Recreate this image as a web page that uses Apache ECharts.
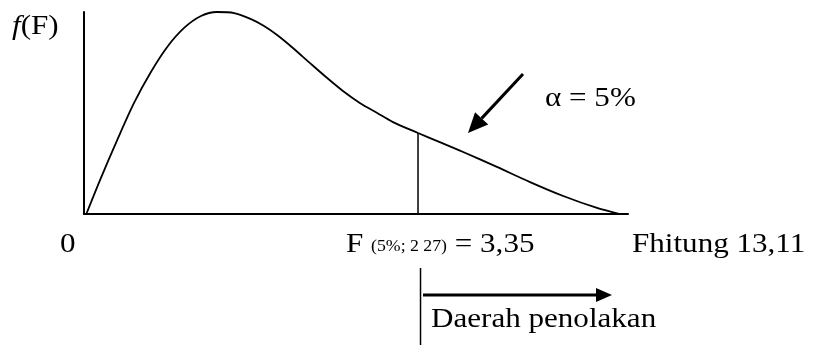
<!DOCTYPE html>
<html>
<head>
<meta charset="utf-8">
<script src="https://cdn.jsdelivr.net/npm/echarts@6/dist/echarts.min.js"></script>
<style>
  html, body { margin: 0; padding: 0; background: #fff; }
  #main { width: 814px; height: 345px; }
</style>
</head>
<body>
<div id="main"></div>
<script>
// curve of the sketch, x and y on a 0..100 scale of the drawing box
var curveX = [0.5, 3.1, 6.1, 9.2, 12.3, 15.3, 18.4, 21.5, 24.4, 27.6, 30.7, 33.1, 35.5, 38.4, 41.5, 44.7, 47.6, 50.7, 53.9, 56.8, 61.4, 65.4, 69.7, 75.9, 82.0, 88.1, 94.3, 98.5];
var curveY = [0.5, 17.8, 36.6, 55.0, 70.3, 82.7, 92.1, 98.0, 100, 99.5, 96.5, 93.1, 88.6, 82.2, 74.8, 67.3, 60.9, 55.0, 50.0, 45.5, 40.1, 35.6, 30.7, 23.3, 15.8, 8.9, 3.0, 0];
var critX = 61.4;          // where F table value sits on the sketch
var critY = 40.1;
var zeroLabel = '0';
var critLabel = ['F', '(5%; 2 27)', '= 3,35'];
var hitungLabel = 'Fhitung 13,11';
var alphaLabel = 'α = 5%';
var regionLabel = 'Daerah penolakan';

var font = '"Liberation Serif", "Times New Roman", serif';
var stretch = 1.11;

function start() {
    var myChart = echarts.init(document.getElementById('main'));
    var curve = curveX.map(function (x, i) {
        return [x, curveY[i]];
    });

    var option = {
        animation: false,
        grid: {
            left: 84,
            top: 12,
            width: 544,
            height: 202
        },
        xAxis: {
            type: 'value',
            min: 0,
            max: 100,
            axisLine: {onZero: false, lineStyle: {color: '#000', width: 2}},
            axisTick: {show: false},
            axisLabel: {show: false},
            splitLine: {show: false}
        },
        yAxis: {
            type: 'value',
            min: 0,
            max: 100,
            axisLine: {show: true, lineStyle: {color: '#000', width: 2}},
            axisTick: {show: false},
            axisLabel: {show: false},
            splitLine: {show: false}
        },
        series: [{
            type: 'line',
            data: curve,
            smooth: 0.3,
            symbol: 'none',
            lineStyle: {color: '#000', width: 1.8}
        }, {
            type: 'line',
            data: [[critX, 0], [critX, critY]],
            symbol: 'none',
            lineStyle: {color: '#000', width: 1.5}
        }]
    };
    myChart.setOption(option);

    var px = myChart.convertToPixel({gridIndex: 0}, [critX, 0])[0];

    function arrow(x1, y1, x2, y2, w, headLen, headHalf) {
        var a = Math.atan2(y2 - y1, x2 - x1);
        var bx = x2 - headLen * Math.cos(a), by = y2 - headLen * Math.sin(a);
        var nx = -Math.sin(a) * headHalf, ny = Math.cos(a) * headHalf;
        return [{
            type: 'line',
            shape: {x1: x1, y1: y1, x2: bx, y2: by},
            style: {stroke: '#000', lineWidth: w}
        }, {
            type: 'polygon',
            shape: {points: [[x2, y2], [bx + nx, by + ny], [bx - nx, by - ny]]},
            style: {fill: '#000'}
        }];
    }

    function txt(x, y, text, size) {
        return {
            type: 'text',
            x: x,
            y: y,
            scaleX: stretch,
            style: {
                text: text,
                fill: '#000',
                font: size + 'px ' + font,
                textVerticalAlign: 'bottom'
            }
        };
    }

    var g = [];
    // f(F)
    g.push({
        type: 'text', x: 12, y: 41, scaleX: stretch,
        style: {
            text: '{i|f}{n|(F)}',
            textVerticalAlign: 'bottom',
            rich: {
                i: {font: 'italic 28px ' + font, fill: '#000'},
                n: {font: '28px ' + font, fill: '#000'}
            }
        }
    });
    g.push(txt(60, 259, zeroLabel, 28));
    g.push({
        type: 'text', x: 346, y: 259, scaleX: stretch,
        style: {
            text: '{a|' + critLabel[0] + ' }{b|' + critLabel[1] + '}{a| ' + critLabel[2] + '}',
            textVerticalAlign: 'bottom',
            rich: {
                a: {font: '28px ' + font, fill: '#000', verticalAlign: 'bottom'},
                b: {font: '16px ' + font, fill: '#000', verticalAlign: 'bottom', padding: [0, 0, 4, 0]}
            }
        }
    });
    g.push(txt(632, 259, hitungLabel, 28));
    g.push(txt(545, 113, alphaLabel, 28));
    g.push(txt(431, 334, regionLabel, 28));

    // line under the axis and the rejection arrow
    g.push({
        type: 'line',
        shape: {x1: px + 2.5, y1: 268, x2: px + 2.5, y2: 345},
        style: {stroke: '#000', lineWidth: 1.5}
    });
    g = g.concat(arrow(px + 5, 295, 612, 295, 3, 16, 7));
    g = g.concat(arrow(523, 74, 468, 133, 3, 20, 9));

    myChart.setOption({graphic: g});
}
start();
</script>
</body>
</html>
